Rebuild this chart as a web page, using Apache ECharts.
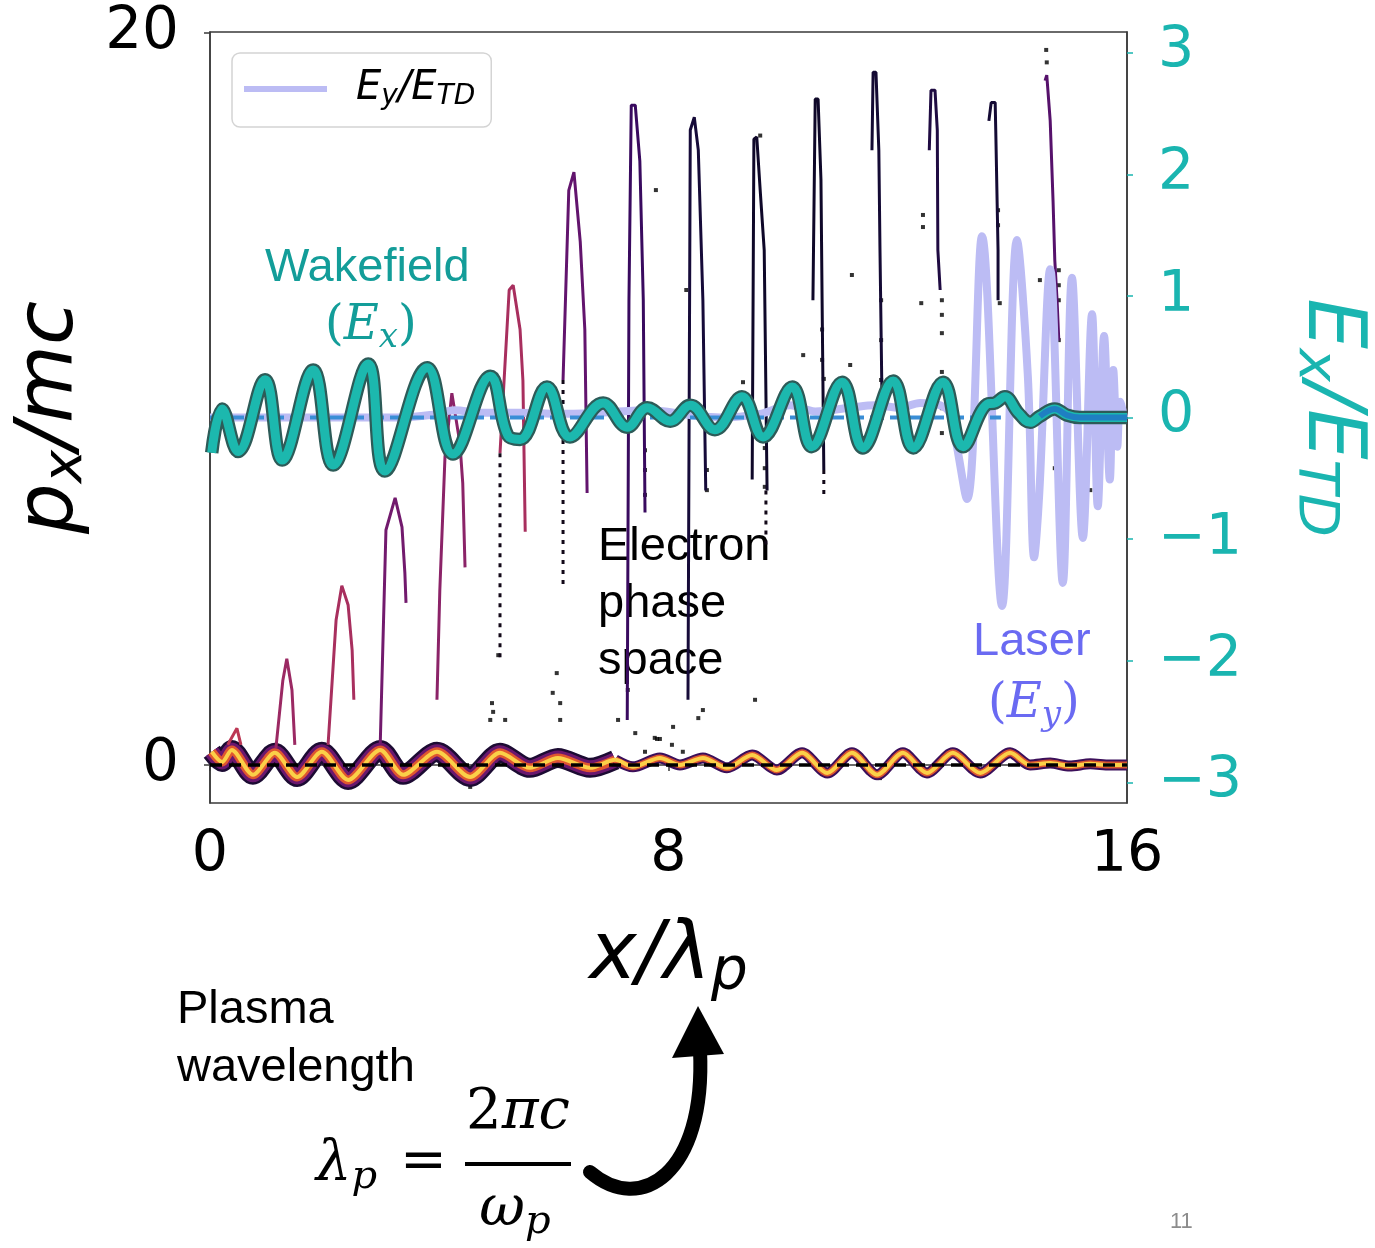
<!DOCTYPE html>
<html><head><meta charset="utf-8">
<script src="https://cdn.jsdelivr.net/npm/echarts@6/dist/echarts.min.js"></script>
<style>html,body{margin:0;padding:0;background:#fff}#c{width:1375px;height:1248px}</style>
</head><body><div id="c"></div>
<script>
// ---------------- data ----------------
const xTicks = [0, 8, 16];
const pTicks = [0, 20];
const eTicks = [-3, -2, -1, 0, 1, 2, 3];

// Wakefield Ex/E_TD
const exX = [0.03,0.21,0.49,0.96,1.26,1.80,2.15,2.76,3.05,3.79,4.24,4.89,5.20,5.41,5.88,6.28,6.86,7.28,7.63,8.03,8.38,8.81,9.28,9.65,10.16,10.50,11.03,11.39,11.92,12.27,12.79,13.14,13.56,13.70,13.87,14.10,14.31,14.48,14.74,14.95,15.18,16.00];
const exV = [-0.29,0.07,-0.28,0.31,-0.35,0.39,-0.39,0.44,-0.44,0.41,-0.30,0.34,-0.15,-0.18,0.25,-0.16,0.12,-0.08,0.08,-0.03,0.10,-0.10,0.17,-0.16,0.25,-0.24,0.29,-0.25,0.30,-0.25,0.29,-0.24,0.11,0.12,0.17,0.04,-0.04,0.01,0.07,0.02,0.00,0.00];

// Laser Ey/E_TD
const eyX = [0.00,3.32,3.84,4.27,4.71,5.41,6.11,6.80,7.68,8.38,8.90,9.60,10.12,10.56,11.17,11.60,12.04,12.39,12.74,12.91,13.21,13.47,13.82,14.08,14.27,14.38,14.47,14.66,14.88,15.04,15.23,15.39,15.49,15.60,15.70,15.76,15.83,15.88,15.95];
const eyV = [0.00,0.00,0.02,0.06,0.04,0.04,0.03,0.04,0.06,0.02,0.00,0.03,0.10,0.05,0.08,0.10,0.08,0.12,0.10,0.03,-0.67,1.49,-1.55,1.46,0.34,-1.15,-0.62,1.22,-1.36,1.15,-0.99,0.85,-0.73,0.67,-0.51,0.39,-0.24,0.13,0.00];

// Bulk electron phase-space ridge px/mc
const bulkX = [0.03,0.21,0.38,0.75,1.13,1.52,1.95,2.41,2.97,3.37,3.96,4.54,5.06,5.58,6.07,6.63,7.07,7.38,7.85,8.20,8.60,9.02,9.46,9.89,10.33,10.77,11.20,11.64,12.09,12.51,12.96,13.44,13.96,14.31,14.66,15.00,15.36,15.70,16.00];
const bulkP = [0.36,0.08,0.41,-0.27,0.33,-0.33,0.36,-0.41,0.41,-0.27,0.36,-0.33,0.33,-0.08,0.19,-0.08,0.14,-0.05,0.19,0.00,0.19,-0.08,0.27,-0.14,0.33,-0.22,0.33,-0.27,0.33,-0.22,0.33,-0.22,0.33,0.00,0.05,-0.03,0.03,0.00,0.00];

// Trapped electron beams (outline of each spike)
const beamXs = [
  [0.31,0.47,0.54],
  [1.15,1.27,1.34,1.43,1.48],
  [2.06,2.20,2.30,2.41,2.48,2.51],
  [2.97,3.07,3.23,3.35,3.40,3.42],
  [3.96,4.01,4.10,4.22,4.36,4.41,4.45],
  [5.06,5.22,5.29,5.41,5.46,5.50],
  [6.16,6.26,6.35,6.46,6.54,6.58],
  [7.28,7.31,7.35,7.42,7.50,7.56,7.59],
  [8.34,8.38,8.45,8.52,8.60,8.65],
  [9.46,9.49,9.54,9.60,9.67,9.72],
  [10.52,10.56,10.61,10.66,10.68,10.71],
  [11.55,11.57,11.62,11.67,11.69,11.73],
  [12.55,12.58,12.65,12.69,12.70,12.74],
  [13.59,13.63,13.70,13.71,13.75,13.75],
  [14.57,14.60,14.66,14.71,14.74,14.78,14.81]
];
const beamPs = [
  [0.55,1.00,0.55],
  [0.46,2.30,2.90,2.05,0.55],
  [0.55,3.96,4.90,4.37,3.14,1.78],
  [0.55,6.42,7.30,6.50,5.25,4.43],
  [1.78,4.78,8.42,10.16,8.80,7.70,5.40],
  [8.52,12.98,13.11,11.90,10.50,6.37],
  [10.52,15.70,16.20,14.30,11.90,7.43],
  [1.23,12.70,18.03,18.03,16.50,12.70,6.90],
  [1.78,17.35,17.70,16.80,12.70,7.50],
  [7.80,17.10,17.16,15.70,14.07,7.50],
  [12.70,18.20,18.20,16.00,12.70,8.06],
  [16.80,18.93,18.93,16.80,14.07,9.43],
  [16.80,18.44,18.44,17.35,14.07,12.98],
  [17.60,18.10,18.10,17.35,14.07,12.70],
  [18.70,18.85,17.60,15.40,13.80,12.70,11.60]
];
const beamDensity = [0.5,0.42,0.45,0.32,0.38,0.45,0.28,0.18,0.1,0.07,0.07,0.09,0.12,0.09,0.25];

// sparse (dotted) beam segments
const trailX = [5.06, 6.16, 9.70, 10.71];
const trailTop = [8.52, 10.52, 7.50, 8.06];
const trailBottom = [2.87, 4.78, 6.00, 7.24];

// isolated macro-particles
const dotX = [4.92,4.94,4.89,5.15,6.05,5.98,6.11,6.11,7.12,7.42,7.76,5.03,4.54,4.62,9.51,8.60,8.52,8.08,7.80,7.85,8.06,8.25,7.59,11.69,8.31,7.78,10.35,10.71,9.30,12.77,12.77,12.77,12.77,14.74,9.68,9.68,9.68,8.67,12.44,12.44,12.41,13.75,13.75,13.78,12.77,12.77,12.77,14.81,14.81,14.81,14.81,11.20,11.17,13.35,15.44,9.60,14.59,14.60,14.48,7.29,7.59,7.59,7.59,8.67,10.68,10.68,11.71,11.71,11.71,15.36];
const dotP = [1.69,1.45,1.23,1.23,2.51,1.97,1.69,1.23,1.23,0.87,0.74,3.00,-0.60,-0.49,1.78,1.50,1.28,1.04,0.71,0.71,0.55,0.36,0.36,-0.36,12.98,15.71,11.20,10.55,10.46,10.74,10.33,9.75,9.07,8.11,8.66,8.11,7.60,7.51,15.03,14.70,12.62,15.16,14.75,12.62,12.70,12.30,11.80,13.52,13.11,12.70,11.61,13.39,10.93,9.75,10.79,17.20,19.54,19.20,13.25,2.05,8.60,8.06,7.38,8.06,11.90,11.07,12.70,11.61,10.52,7.51];

// ---------------- styling helpers ----------------
const inferno = ['#000004','#160b39','#420a68','#6a176e','#932667','#bc3754','#dd513a','#f37819','#fca50a','#f6d746','#fcffa4'];
function infernoColor(v){
  const t = Math.max(0, Math.min(1, v)) * (inferno.length - 1);
  const i = Math.min(inferno.length - 2, Math.floor(t)), f = t - i;
  const a = inferno[i], b = inferno[i+1];
  const c = k => Math.round(parseInt(a.substr(k,2),16)*(1-f) + parseInt(b.substr(k,2),16)*f);
  return 'rgb(' + c(1) + ',' + c(3) + ',' + c(5) + ')';
}
const zip = (xs, ys) => xs.map((x, i) => [x, ys[i]]);
const bulkAll = zip(bulkX, bulkP);
const bulkLeft = bulkAll.filter(d => d[0] <= 7.1);
const bulkRight = bulkAll.filter(d => d[0] >= 7.0);
const exAll = zip(exX, exV);
const exTail = exAll.filter(d => d[0] >= 14.45);

function line(name, data, yAxisIndex, color, width, extra){
  return Object.assign({
    type: 'line', name: name, data: data, yAxisIndex: yAxisIndex,
    showSymbol: false, symbol: 'none', silent: true, animation: false,
    color: color, lineStyle: { color: color, width: width }
  }, extra || {});
}

const series = [];
// bulk phase-space band (layered inferno colours)
series.push(line('b0', bulkLeft, 0, '#1c0b33', 20, { smooth: 0.28 }));
series.push(line('b1', bulkLeft, 0, '#6a176e', 15, { smooth: 0.28 }));
series.push(line('b2', bulkLeft, 0, '#e0562f', 9, { smooth: 0.28 }));
series.push(line('b3', bulkRight, 0, '#3b0f5a', 11, { smooth: 0.28 }));
series.push(line('b4', bulkRight, 0, '#dc552f', 7, { smooth: 0.28 }));
series.push(line('b5', bulkAll, 0, '#fbd048', 4, { smooth: 0.28 }));
// beams
beamXs.forEach((xs, k) => {
  series.push(line('beam' + k, zip(xs, beamPs[k]), 0, infernoColor(beamDensity[k]), 3));
});
// dotted trails
trailX.forEach((x, k) => {
  series.push(line('trail' + k, [[x, trailTop[k]], [x, trailBottom[k]]], 0, '#120818', 3,
    { lineStyle: { color: '#120818', width: 3, type: [4, 6] } }));
});
// isolated particles
series.push({ type: 'scatter', name: 'dots', data: zip(dotX, dotP), yAxisIndex: 0, symbol: 'rect',
  symbolSize: 4, itemStyle: { color: '#000' }, silent: true, animation: false });
// p = 0 reference
series.push(line('p0', [[0, 0], [16, 0]], 0, '#000', 3.5, { lineStyle: { color: '#000', width: 3.5, type: [12, 7] } }));
// laser
series.push(line('Ey/ETD', zip(eyX, eyV), 1, '#bcbcf4', 8, { smooth: 0.35 }));
// E = 0 reference
series.push(line('e0', [[0, 0], [13.8, 0]], 1, '#3a8ed6', 4, { lineStyle: { color: '#3a8ed6', width: 4, type: [14, 6] } }));
// wakefield
series.push(line('exOutline', exAll, 1, '#2d5b58', 13.5, { smooth: 0.4 }));
series.push(line('Ex', exAll, 1, '#1cb8ae', 9, { smooth: 0.4 }));
series.push(line('exTail', exTail, 1, '#1f7fc2', 6, { smooth: 0.4 }));

const serif = '"DejaVu Serif"';
const option = {
  backgroundColor: '#fff',
  animation: false,
  grid: { left: 210, right: 248, top: 32, bottom: 445, show: true, borderColor: '#3a3a3a', borderWidth: 1.5,
          backgroundColor: 'transparent', outerBoundsMode: 'none', containLabel: false },
  legend: {
    data: ['Ey/ETD'], left: 232, top: 53, orient: 'vertical',
    padding: [16, 16, 16, 12], itemWidth: 83, itemHeight: 6, icon: 'rect',
    borderColor: '#d4d4d4', borderWidth: 1.5, borderRadius: 8, backgroundColor: '#fff',
    formatter: () => '{e0|E}{s|y}{e|/E}{s|TD}',
    textStyle: { rich: {
      e0: { fontFamily: 'DejaVu Sans', fontStyle: 'italic', fontSize: 40, color: '#000', padding: [0, 0, 0, 24] },
      e: { fontFamily: 'DejaVu Sans', fontStyle: 'italic', fontSize: 40, color: '#000' },
      s: { fontFamily: 'DejaVu Sans', fontStyle: 'italic', fontSize: 28, color: '#000', padding: [16, 0, 0, 0] }
    } }
  },
  xAxis: {
    type: 'value', min: 0, max: 16, interval: 8,
    axisLine: { show: true, lineStyle: { color: '#3a3a3a', width: 1.5 } },
    axisTick: { show: true, length: 6, lineStyle: { color: '#3a3a3a', width: 1.5 } },
    axisLabel: { fontSize: 57, color: '#000', fontFamily: 'DejaVu Sans', margin: 25,
                 customValues: xTicks },
    splitLine: { show: false },
    name: '{i|x/λ}{s|p}', nameLocation: 'middle', nameGap: 108,
    nameTextStyle: { rich: {
      i: { fontFamily: 'DejaVu Sans', fontStyle: 'italic', fontSize: 80, color: '#000' },
      s: { fontFamily: 'DejaVu Sans', fontStyle: 'italic', fontSize: 58, color: '#000', padding: [34, 0, 0, 0] }
    } }
  },
  yAxis: [{
    type: 'value', min: -1.04, max: 20.03, position: 'left',
    axisLine: { show: true, lineStyle: { color: '#3a3a3a', width: 1.5 } },
    axisTick: { show: true, length: 6, customValues: pTicks, lineStyle: { color: '#3a3a3a', width: 1.5 } },
    axisLabel: { fontSize: 58, color: '#000', fontFamily: 'DejaVu Sans', margin: 31, customValues: pTicks },
    splitLine: { show: false },
    name: '{i|p}{s|x}{i|/mc}', nameLocation: 'middle', nameRotate: 90, nameGap: 108,
    nameTextStyle: { rich: {
      i: { fontFamily: 'DejaVu Sans', fontStyle: 'italic', fontSize: 80, color: '#000' },
      s: { fontFamily: 'DejaVu Sans', fontStyle: 'italic', fontSize: 56, color: '#000', padding: [30, 0, 0, 0] }
    } }
  }, {
    type: 'value', min: -3.17, max: 3.17, position: 'right',
    axisLine: { show: true, lineStyle: { color: '#3a3a3a', width: 1.5 } },
    axisTick: { show: true, length: 6, customValues: eTicks, lineStyle: { color: '#1ab5b0', width: 1.5 } },
    axisLabel: { fontSize: 57, color: '#1ab5b0', fontFamily: 'DejaVu Sans', margin: 31, customValues: eTicks,
                 formatter: v => (v < 0 ? '\u2212' + Math.abs(v) : String(v)) },
    splitLine: { show: false },
    name: '{i|E}{s|x}{i|/E}{s|TD}', nameLocation: 'middle', nameRotate: -90, nameGap: 160,
    nameTextStyle: { rich: {
      i: { fontFamily: 'DejaVu Sans', fontStyle: 'italic', fontSize: 80, color: '#1ab5b0' },
      s: { fontFamily: 'DejaVu Sans', fontStyle: 'italic', fontSize: 56, color: '#1ab5b0', padding: [30, 0, 0, 0] }
    } }
  }],
  series: series,
  graphic: [
    { type: 'text', x: 265, y: 268, silent: true, style: { text: 'Wakefield', font: '47px "Liberation Sans"', fill: '#139d99', textVerticalAlign: 'middle' } },
    { type: 'text', x: 325, y: 327, silent: true, style: { text: '({e|E}{s|x})', font: '48px ' + serif, fill: '#139d99', textVerticalAlign: 'middle',
      rich: { e: { font: 'italic 48px ' + serif, fill: '#139d99' }, s: { font: 'italic 34px ' + serif, fill: '#139d99', padding: [22, 0, 0, 0] } } } },
    { type: 'text', x: 598, y: 547, silent: true, style: { text: 'Electron', font: '47px "Liberation Sans"', fill: '#000', textVerticalAlign: 'middle' } },
    { type: 'text', x: 598, y: 604, silent: true, style: { text: 'phase', font: '47px "Liberation Sans"', fill: '#000', textVerticalAlign: 'middle' } },
    { type: 'text', x: 598, y: 661, silent: true, style: { text: 'space', font: '47px "Liberation Sans"', fill: '#000', textVerticalAlign: 'middle' } },
    { type: 'text', x: 973, y: 642, silent: true, style: { text: 'Laser', font: '47px "Liberation Sans"', fill: '#6a6af2', textVerticalAlign: 'middle' } },
    { type: 'text', x: 988, y: 705, silent: true, style: { text: '({e|E}{s|y})', font: '48px ' + serif, fill: '#6a6af2', textVerticalAlign: 'middle',
      rich: { e: { font: 'italic 48px ' + serif, fill: '#6a6af2' }, s: { font: 'italic 34px ' + serif, fill: '#6a6af2', padding: [22, 0, 0, 0] } } } },
    { type: 'text', x: 177, y: 1010, silent: true, style: { text: 'Plasma', font: '47px "Liberation Sans"', fill: '#000', textVerticalAlign: 'middle' } },
    { type: 'text', x: 177, y: 1068, silent: true, style: { text: 'wavelength', font: '47px "Liberation Sans"', fill: '#000', textVerticalAlign: 'middle' } },
    { type: 'text', x: 316, y: 1165, silent: true, style: { text: '{e|λ}{s|p}', font: 'italic 56px ' + serif, fill: '#000', textVerticalAlign: 'middle',
      rich: { e: { font: 'italic 56px ' + serif, fill: '#000' }, s: { font: 'italic 40px ' + serif, fill: '#000', padding: [26, 0, 0, 0] } } } },
    { type: 'text', x: 400, y: 1163, silent: true, style: { text: '=', font: '56px ' + serif, fill: '#000', textVerticalAlign: 'middle' } },
    { type: 'text', x: 518, y: 1113, silent: true, style: { text: '2{e|πc}', font: '56px ' + serif, fill: '#000', textVerticalAlign: 'middle', textAlign: 'center',
      rich: { e: { font: 'italic 56px ' + serif, fill: '#000' } } } },
    { type: 'line', silent: true, shape: { x1: 465, y1: 1164, x2: 571, y2: 1164 }, style: { stroke: '#000', lineWidth: 4 } },
    { type: 'text', x: 515, y: 1210, silent: true, style: { text: '{e|ω}{s|p}', font: 'italic 56px ' + serif, fill: '#000', textVerticalAlign: 'middle', textAlign: 'center',
      rich: { e: { font: 'italic 56px ' + serif, fill: '#000' }, s: { font: 'italic 40px ' + serif, fill: '#000', padding: [26, 0, 0, 0] } } } },
    { type: 'bezierCurve', silent: true, shape: { x1: 590, y1: 1172, cpx1: 640, cpy1: 1215, cpx2: 706, cpy2: 1175, x2: 700, y2: 1050 },
      style: { stroke: '#000', lineWidth: 14, fill: null, lineCap: 'round' } },
    { type: 'polygon', silent: true, shape: { points: [[698, 1006], [672, 1058], [724, 1054]] }, style: { fill: '#000' } },
    { type: 'text', x: 1170, y: 1222, silent: true, style: { text: '11', font: '22px "Liberation Sans"', fill: '#8c8c8c', textVerticalAlign: 'middle' } }
  ]
};
const chart = echarts.init(document.getElementById('c'), null, { renderer: 'canvas' });
chart.setOption(option);
</script>
</body></html>
